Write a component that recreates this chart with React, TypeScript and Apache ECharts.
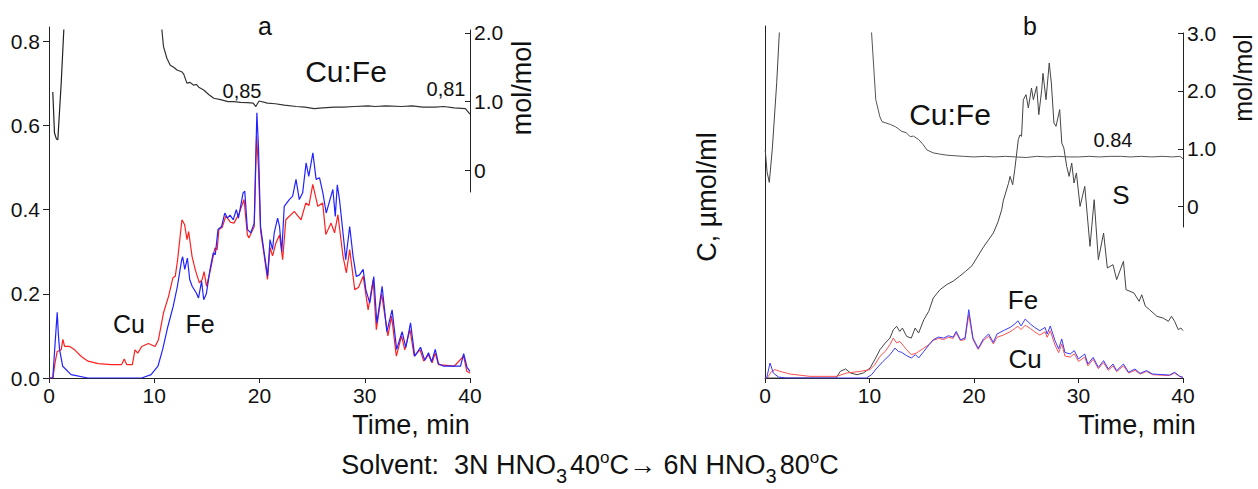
import React, { useEffect, useRef } from 'react';
import * as echarts from 'echarts';

// ---------- data ----------
const timeTicks = [0, 10, 20, 30, 40];
const aLeftTicks = [0, 0.2, 0.4, 0.6, 0.8];
const aRatioTicks = [0, 1, 2];
const bRatioTicks = [0, 1, 2, 3];

// panel a: Fe (blue), Cu (red), µmol/ml vs time, min
const aFe = [
  [0, 0], [0.36, 0], [0.6, 0.09], [0.78, 0.156], [0.9, 0.1], [1.0, 0.068], [1.3, 0.028], [2.1, 0.008], [3.7, 0],
  [8.8, 0], [9.7, 0.008], [10.35, 0.028], [10.8, 0.068], [11.3, 0.123], [11.8, 0.17], [12.2, 0.218], [12.6, 0.28],
  [12.7, 0.288], [12.9, 0.258], [13.15, 0.285], [13.37, 0.234], [13.6, 0.218], [14.0, 0.202], [14.2, 0.19],
  [14.5, 0.23], [14.7, 0.186], [14.95, 0.2], [15.3, 0.258], [15.6, 0.297], [15.8, 0.293], [16.06, 0.353],
  [16.4, 0.36], [16.7, 0.392], [16.95, 0.38], [17.2, 0.387], [17.5, 0.376], [17.8, 0.4], [18.0, 0.38],
  [18.44, 0.44], [18.6, 0.444], [18.85, 0.353], [19.17, 0.345], [19.5, 0.368], [19.75, 0.63], [19.9, 0.55],
  [20.1, 0.36], [20.45, 0.297], [20.77, 0.242], [21.0, 0.329], [21.24, 0.305], [21.4, 0.345], [21.72, 0.38],
  [21.9, 0.36], [22.12, 0.3], [22.35, 0.408], [22.83, 0.424], [23.15, 0.432], [23.47, 0.472], [23.78, 0.424],
  [24.1, 0.44], [24.43, 0.511], [24.68, 0.479], [25.07, 0.535], [25.38, 0.472], [25.7, 0.476], [26.02, 0.44],
  [26.34, 0.392], [26.97, 0.448], [27.2, 0.384], [27.39, 0.459], [27.6, 0.424], [28.0, 0.329], [28.19, 0.281],
  [28.57, 0.36], [28.89, 0.289], [29.2, 0.241], [29.5, 0.245], [29.85, 0.258], [30.1, 0.21], [30.48, 0.178],
  [30.86, 0.241], [31.15, 0.13], [31.65, 0.218], [32.1, 0.11], [32.6, 0.162], [33.03, 0.068], [33.55, 0.11],
  [33.9, 0.072], [34.35, 0.131], [34.75, 0.052], [35.3, 0.073], [35.7, 0.042], [36.06, 0.06], [36.35, 0.038],
  [36.7, 0.068], [37.0, 0.034], [37.5, 0.028], [39.1, 0.028], [39.4, 0.058], [39.72, 0.025], [40, 0.016],
];

const aCu = [
  [0, 0], [0.37, 0], [0.6, 0.04], [0.78, 0.063], [1.16, 0.067], [1.32, 0.092], [1.48, 0.075], [1.96, 0.075],
  [2.44, 0.067], [3.07, 0.051], [3.71, 0.04], [4.67, 0.034], [5.94, 0.032], [6.9, 0.032], [7.15, 0.045],
  [7.38, 0.032], [7.92, 0.032], [8.17, 0.067], [8.43, 0.059], [8.81, 0.075], [9.45, 0.082], [10.08, 0.075],
  [10.4, 0.091], [10.88, 0.155], [11.36, 0.194], [11.77, 0.238], [12.0, 0.242], [12.22, 0.281], [12.63, 0.376],
  [12.89, 0.364], [13.11, 0.329], [13.27, 0.348], [13.59, 0.289], [13.9, 0.257], [14.29, 0.226], [14.55, 0.234],
  [14.74, 0.253], [14.96, 0.218], [15.34, 0.257], [15.76, 0.309], [15.98, 0.305], [16.14, 0.353], [16.46, 0.358],
  [16.8, 0.385], [17.25, 0.37], [17.57, 0.368], [18.05, 0.39], [18.53, 0.424], [18.85, 0.34], [19.0, 0.333],
  [19.5, 0.36], [19.72, 0.575], [19.9, 0.5], [20.1, 0.35], [20.45, 0.29], [20.76, 0.234], [21.0, 0.31],
  [21.24, 0.29], [21.55, 0.32], [21.9, 0.34], [22.2, 0.281], [22.5, 0.376], [23.3, 0.396], [23.95, 0.376],
  [24.4, 0.416], [24.7, 0.41], [25.06, 0.46], [25.54, 0.408], [26.0, 0.416], [26.3, 0.341], [26.8, 0.368],
  [27.13, 0.345], [27.45, 0.388], [27.93, 0.29], [28.25, 0.25], [28.57, 0.305], [29.05, 0.21], [29.4, 0.215],
  [29.85, 0.242], [30.32, 0.162], [30.8, 0.234], [31.1, 0.115], [31.6, 0.2], [32.2, 0.1], [32.55, 0.147],
  [33.0, 0.052], [33.5, 0.1], [33.8, 0.067], [34.3, 0.115], [34.7, 0.052], [35.26, 0.067], [35.6, 0.04],
  [36.06, 0.055], [36.4, 0.036], [36.7, 0.059], [37.0, 0.032], [38.5, 0.028], [39.4, 0.052], [39.7, 0.016],
  [40, 0.012],
];

// panel a: Cu:Fe molar ratio (right axis, mol/mol)
const aRatioStart = [[0.36, 1.14], [0.52, 0.55], [0.7, 0.46], [0.84, 0.45], [1.16, 1.27], [1.41, 2.05], [1.55, 2.5]];
const aRatio = [
  [10.6, 2.5], [10.72, 2.05], [10.88, 1.8], [11.2, 1.63], [11.52, 1.53], [11.85, 1.5], [12.16, 1.46],
  [12.6, 1.435], [12.8, 1.4], [13.1, 1.27], [13.4, 1.28], [13.75, 1.24], [14.0, 1.25], [14.23, 1.21],
  [14.7, 1.17], [15.2, 1.1], [15.66, 1.05], [16.3, 1.03], [17.0, 1.0], [17.57, 1.0], [18.2, 0.99],
  [18.85, 0.986], [19.4, 0.98], [19.65, 0.93], [19.8, 0.97], [19.96, 1.01], [20.76, 0.98], [21.5, 0.97],
  [22.35, 0.95], [23.5, 0.93], [24.3, 0.92], [25.2, 0.9], [26.0, 0.91], [27.13, 0.92], [28.0, 0.92],
  [29.0, 0.93], [30.32, 0.94], [31.0, 0.93], [32.0, 0.94], [33.5, 0.93], [34.5, 0.94], [35.5, 0.92],
  [36.7, 0.92], [37.5, 0.93], [38.5, 0.91], [39.56, 0.9], [40, 0.82],
];

// panel b: S (black), Fe (blue), Cu (red)
const bS = [
  [0, 0], [6.8, 0], [7.2, 0.06], [7.7, 0.082], [8.2, 0.045], [8.8, 0.03], [9.4, 0.045], [10.05, 0.09],
  [10.5, 0.166], [11.0, 0.257], [11.5, 0.318], [11.96, 0.363], [12.28, 0.439], [12.6, 0.469], [12.9, 0.424],
  [13.15, 0.454], [13.56, 0.378], [14.0, 0.363], [14.37, 0.454], [14.7, 0.409], [15.2, 0.53], [15.67, 0.606],
  [16.1, 0.727], [16.75, 0.803], [17.4, 0.85], [18.0, 0.88], [18.6, 0.924], [19.2, 0.97], [19.8, 1.02],
  [20.9, 1.19], [21.85, 1.318], [22.3, 1.42], [22.65, 1.53], [22.8, 1.61], [23.3, 1.77], [23.45, 1.833],
  [23.7, 1.757], [23.9, 1.894], [24.24, 2.167], [24.4, 2.21], [24.55, 2.197], [24.72, 2.53], [24.98, 2.576],
  [25.2, 2.455], [25.5, 2.636], [25.68, 2.53], [26.0, 2.651], [26.2, 2.394], [26.48, 2.62], [26.6, 2.77],
  [26.89, 2.53], [27.2, 2.864], [27.4, 2.682], [27.65, 2.318], [27.85, 2.288], [28.2, 2.44], [28.4, 2.136],
  [28.6, 2.09], [28.87, 1.924], [29.1, 1.833], [29.35, 1.954], [29.57, 1.773], [29.8, 1.864], [30.15, 1.56],
  [30.6, 1.742], [31.1, 1.197], [31.5, 1.621], [31.9, 1.076], [32.4, 1.318], [32.76, 1.0], [33.3, 1.03],
  [33.65, 0.894], [34.3, 1.061], [34.55, 0.803], [35.3, 0.773], [35.8, 0.697], [36.05, 0.757], [36.4, 0.652],
  [36.8, 0.621], [37.5, 0.561], [38.1, 0.545], [38.6, 0.515], [38.9, 0.561], [39.2, 0.515], [39.55, 0.439],
  [39.8, 0.455], [40, 0.43],
];

const bFe = [
  [0, 0], [0.16, 0], [0.48, 0.136], [0.8, 0.045], [1.28, 0.009], [2, 0], [9.7, 0], [10.2, 0.03], [10.7, 0.09],
  [11.3, 0.151], [11.96, 0.212], [12.44, 0.272], [12.76, 0.242], [13.08, 0.233], [13.56, 0.203], [14.0, 0.182],
  [14.4, 0.212], [14.7, 0.182], [15.2, 0.242], [15.7, 0.303], [16.1, 0.348], [16.6, 0.372], [17.1, 0.363],
  [17.55, 0.384], [18.0, 0.372], [18.3, 0.424], [18.7, 0.348], [19.14, 0.363], [19.5, 0.621], [19.9, 0.363],
  [20.4, 0.27], [20.9, 0.355], [21.4, 0.4], [21.85, 0.324], [22.2, 0.4], [22.8, 0.43], [23.45, 0.46],
  [23.9, 0.49], [24.2, 0.52], [24.5, 0.473], [24.9, 0.536], [25.4, 0.49], [25.8, 0.46], [26.3, 0.43],
  [26.8, 0.46], [27.0, 0.4], [27.3, 0.473], [27.75, 0.34], [28.1, 0.264], [28.4, 0.355], [28.7, 0.233],
  [29.2, 0.218], [29.6, 0.249], [30.0, 0.173], [30.6, 0.218], [30.9, 0.127], [31.4, 0.188], [31.9, 0.097],
  [32.4, 0.158], [32.85, 0.082], [33.3, 0.127], [33.65, 0.067], [34.3, 0.127], [34.8, 0.052], [35.4, 0.082],
  [35.9, 0.042], [36.5, 0.067], [37.1, 0.036], [38.7, 0.027], [39.2, 0.052], [39.7, 0.015], [40, 0.006],
];

const bCu = [
  [0, 0], [0.2, 0], [0.64, 0.06], [0.96, 0.076], [1.43, 0.06], [2.4, 0.036], [4.3, 0.015], [6.86, 0.015],
  [7.8, 0.045], [9.1, 0.06], [10.05, 0.076], [10.5, 0.12], [11.0, 0.197], [11.5, 0.242], [11.96, 0.303],
  [12.28, 0.363], [12.6, 0.318], [12.9, 0.333], [13.56, 0.257], [14.0, 0.212], [14.5, 0.227], [15.2, 0.272],
  [15.7, 0.303], [16.1, 0.342], [16.6, 0.36], [17.1, 0.35], [17.55, 0.37], [18.0, 0.36], [18.3, 0.41],
  [18.7, 0.34], [19.14, 0.35], [19.5, 0.575], [19.9, 0.35], [20.4, 0.26], [20.9, 0.34], [21.4, 0.38],
  [21.85, 0.31], [22.2, 0.37], [22.8, 0.39], [23.45, 0.42], [23.9, 0.45], [24.2, 0.47], [24.5, 0.44],
  [24.9, 0.48], [25.4, 0.45], [25.8, 0.42], [26.3, 0.39], [26.8, 0.42], [27.0, 0.37], [27.3, 0.43],
  [27.75, 0.3], [28.1, 0.23], [28.4, 0.31], [28.7, 0.2], [29.2, 0.19], [29.6, 0.22], [30.0, 0.15],
  [30.6, 0.19], [30.9, 0.11], [31.4, 0.17], [31.9, 0.085], [32.4, 0.14], [32.85, 0.07], [33.3, 0.11],
  [33.65, 0.058], [34.3, 0.11], [34.8, 0.045], [35.4, 0.07], [35.9, 0.036], [36.5, 0.06], [37.1, 0.03],
  [38.7, 0.022], [39.2, 0.045], [39.7, 0.012], [40, 0.005],
];

// panel b: Cu:Fe molar ratio
const bRatioStart = [[0.02, 0.98], [0.2, 0.6], [0.41, 0.42], [0.7, 1.0], [1.12, 2.14], [1.37, 3.0], [1.45, 3.3]];
const bRatio = [
  [10.1, 3.3], [10.2, 3.0], [10.6, 1.85], [11.0, 1.55], [11.2, 1.47], [12.0, 1.42], [12.5, 1.38], [13.1, 1.3],
  [13.5, 1.28], [13.9, 1.21], [14.2, 1.22], [14.7, 1.16], [15.1, 1.08], [15.5, 0.98], [16.1, 0.93],
  [16.7, 0.91], [17.4, 0.89], [18.2, 0.88], [19, 0.87], [20, 0.86], [21, 0.87], [22, 0.86], [23, 0.87],
  [24, 0.86], [25, 0.85], [26, 0.87], [27, 0.86], [28, 0.87], [29, 0.86], [30, 0.86], [31, 0.87], [32, 0.86],
  [33, 0.87], [34, 0.87], [35, 0.86], [36, 0.87], [37, 0.86], [38, 0.87], [39, 0.86], [39.7, 0.87], [40, 0.83],
];

// ---------- chart ----------
const FONT = '"Liberation Sans", Arial, sans-serif';
const AX = '#222';
const TICK_FONT = 21;

function xAxisCfg(gridIndex: number, show: boolean) {
  return {
    type: 'value', gridIndex, min: 0, max: 40, interval: 10, show,
    axisLine: { show, onZero: false, lineStyle: { color: AX, width: 1 } },
    axisTick: { show, inside: false, length: 5, lineStyle: { color: AX }, customValues: timeTicks },
    axisLabel: { show, color: '#111', fontSize: TICK_FONT, fontFamily: FONT, margin: 7, customValues: timeTicks },
    splitLine: { show: false },
  };
}

function lineSeries(data: number[][], xi: number, yi: number, color: string, width = 1.2) {
  return {
    type: 'line', data, xAxisIndex: xi, yAxisIndex: yi, showSymbol: false, symbol: 'none',
    lineStyle: { color, width }, clip: true, silent: true, z: 3,
  };
}

function txt(text: string, x: number, y: number, fontSize: number, extra: any = {}) {
  return {
    type: 'text', x, y, ...extra,
    style: { text, fontSize, fontFamily: FONT, fill: '#111', align: 'center', verticalAlign: 'middle', ...(extra.style || {}) },
  };
}

export default function App() {
  const ref = useRef<HTMLDivElement>(null);
  useEffect(() => {
    if (!ref.current) return;
    const chart = echarts.init(ref.current, undefined, { renderer: 'svg' });
    const ratioFmt = (v: number) => (v === 0 ? '0' : v.toFixed(1));
    chart.setOption({
      animation: false,
      backgroundColor: '#fff',
      grid: [
        { left: 49, top: 27, width: 421, height: 351 },
        { left: 49, top: 30, width: 421, height: 162 },
        { left: 765, top: 26, width: 418, height: 352 },
        { left: 765, top: 33, width: 418, height: 194 },
      ],
      xAxis: [xAxisCfg(0, true), xAxisCfg(1, false), xAxisCfg(2, true), xAxisCfg(3, false)],
      yAxis: [
        {
          type: 'value', gridIndex: 0, min: 0, max: 0.834, interval: 0.2,
          axisLine: { show: true, onZero: false, lineStyle: { color: AX } },
          axisTick: { show: true, length: 6, lineStyle: { color: AX }, customValues: aLeftTicks },
          axisLabel: { color: '#111', fontSize: TICK_FONT, fontFamily: FONT, margin: 9, customValues: aLeftTicks, formatter: (v: number) => v.toFixed(1) },
          splitLine: { show: false },
        },
        {
          type: 'value', gridIndex: 1, position: 'right', min: -0.31, max: 2.04, interval: 1,
          axisLine: { show: true, onZero: false, lineStyle: { color: AX } },
          axisTick: { show: true, inside: true, length: 5, lineStyle: { color: AX }, customValues: aRatioTicks },
          axisLabel: { color: '#111', fontSize: TICK_FONT, fontFamily: FONT, margin: 4, customValues: aRatioTicks, formatter: ratioFmt },
          splitLine: { show: false },
        },
        {
          type: 'value', gridIndex: 2, min: 0, max: 3.2,
          axisLine: { show: true, onZero: false, lineStyle: { color: AX } },
          axisTick: { show: false }, axisLabel: { show: false }, splitLine: { show: false },
        },
        {
          type: 'value', gridIndex: 3, position: 'right', min: -0.35, max: 3.0, interval: 1,
          axisLine: { show: true, onZero: false, lineStyle: { color: AX } },
          axisTick: { show: true, inside: true, length: 5, lineStyle: { color: AX }, customValues: bRatioTicks },
          axisLabel: { color: '#111', fontSize: TICK_FONT, fontFamily: FONT, margin: 4, customValues: bRatioTicks, formatter: ratioFmt },
          splitLine: { show: false },
        },
      ],
      series: [
        lineSeries(aCu, 0, 0, '#ff2020'),
        lineSeries(aFe, 0, 0, '#2222ff'),
        lineSeries(aRatioStart, 1, 1, '#222'),
        lineSeries(aRatio, 1, 1, '#333'),
        lineSeries(bS, 2, 2, '#444', 1),
        lineSeries(bCu, 2, 2, '#ff5050', 1),
        lineSeries(bFe, 2, 2, '#3a3aff', 1),
        lineSeries(bRatioStart, 3, 3, '#444', 1),
        lineSeries(bRatio, 3, 3, '#555', 1),
      ],
      graphic: [
        txt('a', 265, 26, 25),
        txt('b', 1030, 26, 25),
        txt('Cu:Fe', 346, 71, 30),
        txt('0,85', 242, 91, 20),
        txt('0,81', 446, 89, 20),
        txt('mol/mol', 522, 88, 27, { rotation: Math.PI / 2 }),
        txt('Cu', 129, 324, 25),
        txt('Fe', 200, 324, 25),
        txt('Time, min', 411, 425, 27),
        txt('Time, min', 1137, 425, 27),
        txt('C, µmol/ml', 707, 197, 27, { rotation: Math.PI / 2 }),
        txt('Cu:Fe', 950, 114, 30),
        txt('0.84', 1113, 140, 20),
        txt('S', 1121, 195, 26),
        txt('Fe', 1023, 300, 26),
        txt('Cu', 1025, 359, 26),
        txt('mol/mol', 1243, 78, 25, { rotation: Math.PI / 2 }),
        {
          type: 'text', x: 590, y: 465,
          style: {
            text: '{n|Solvent:  3N HNO}{sub|3}{n|40}{sup|o}{n|C}{n|→ 6N HNO}{sub|3}{n|80}{sup|o}{n|C}',
            fontFamily: FONT, fill: '#111', align: 'center', verticalAlign: 'middle',
            rich: {
              n: { fontSize: 27, fontFamily: FONT, fill: '#111' },
              sub: { fontSize: 20, fontFamily: FONT, fill: '#111', padding: [22, 3, 0, 0] },
              sup: { fontSize: 17, fontFamily: FONT, fill: '#111', padding: [0, 0, 16, 0] },
            },
          },
        },
      ],
    });
    return () => chart.dispose();
  }, []);
  return <div ref={ref} style={{ position: 'absolute', left: 0, top: 0, width: 1258, height: 489 }} />;
}
